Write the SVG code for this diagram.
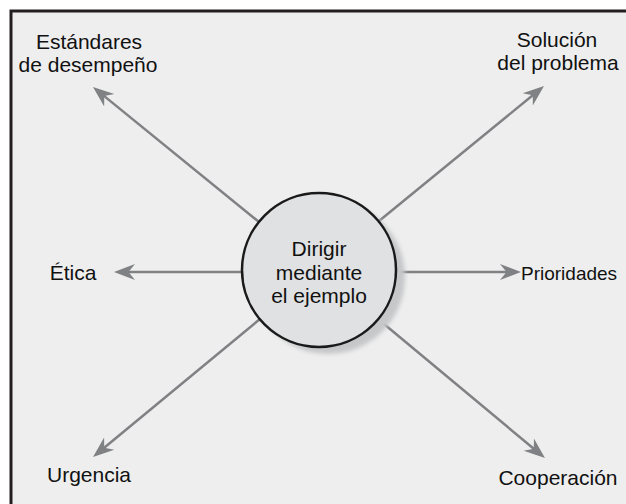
<svg xmlns="http://www.w3.org/2000/svg" width="626" height="504" viewBox="0 0 626 504">
  <defs>
    <style>
      .lbl { font-family: "Liberation Sans", Arial, sans-serif; font-size: 21px; fill: #111; text-anchor: middle; }
      .conn { stroke: #808184; stroke-width: 2.5; fill: none; marker-end: url(#ah); }
    </style>
    <marker id="ah" markerUnits="userSpaceOnUse" markerWidth="24" markerHeight="18" viewBox="0 -9 24 18" refX="10" refY="0" orient="auto">
      <path d="M21,0 L0,-8 L6.5,0 L0,8 Z" fill="#808184"/>
    </marker>
    <filter id="blur" x="-20%" y="-20%" width="140%" height="140%">
      <feGaussianBlur stdDeviation="2"/>
    </filter>
  </defs>
  <rect x="0" y="0" width="626" height="504" fill="#ffffff"/>
  <rect x="11" y="11" width="630" height="510" fill="#eeeeee" stroke="#231f20" stroke-width="3"/>

  <g id="connectors">
    <line class="conn" x1="259" y1="222" x2="101.5" y2="93.9"/>
    <line class="conn" x1="379" y1="221" x2="535.5" y2="93"/>
    <line class="conn" x1="396" y1="272" x2="510" y2="272"/>
    <line class="conn" x1="242" y1="272" x2="125" y2="272"/>
    <line class="conn" x1="260" y1="319" x2="101.5" y2="450"/>
    <line class="conn" x1="378" y1="319" x2="536.5" y2="451"/>
  </g>

  <g id="center">
    <circle cx="328" cy="277" r="77" fill="#c6c7c9" filter="url(#blur)"/>
    <circle cx="319" cy="270" r="77" fill="#e0e1e3" stroke="#1a1a1a" stroke-width="2.5"/>
    <text class="lbl" x="319" y="256">Dirigir</text>
    <text class="lbl" x="319" y="280">mediante</text>
    <text class="lbl" x="319" y="303">el ejemplo</text>
  </g>

  <g id="estandares">
    <text class="lbl" x="89" y="49">Estándares</text>
    <text class="lbl" x="88" y="72">de desempeño</text>
  </g>
  <g id="solucion">
    <text class="lbl" x="557" y="47">Solución</text>
    <text class="lbl" x="558" y="70">del problema</text>
  </g>
  <g id="etica">
    <text class="lbl" x="73" y="280">Ética</text>
  </g>
  <g id="prioridades">
    <text class="lbl" x="521" y="280" style="text-anchor:start; font-size:19px">Prioridades</text>
  </g>
  <g id="urgencia">
    <text class="lbl" x="89" y="482">Urgencia</text>
  </g>
  <g id="cooperacion">
    <text class="lbl" x="558" y="485">Cooperación</text>
  </g>
</svg>
